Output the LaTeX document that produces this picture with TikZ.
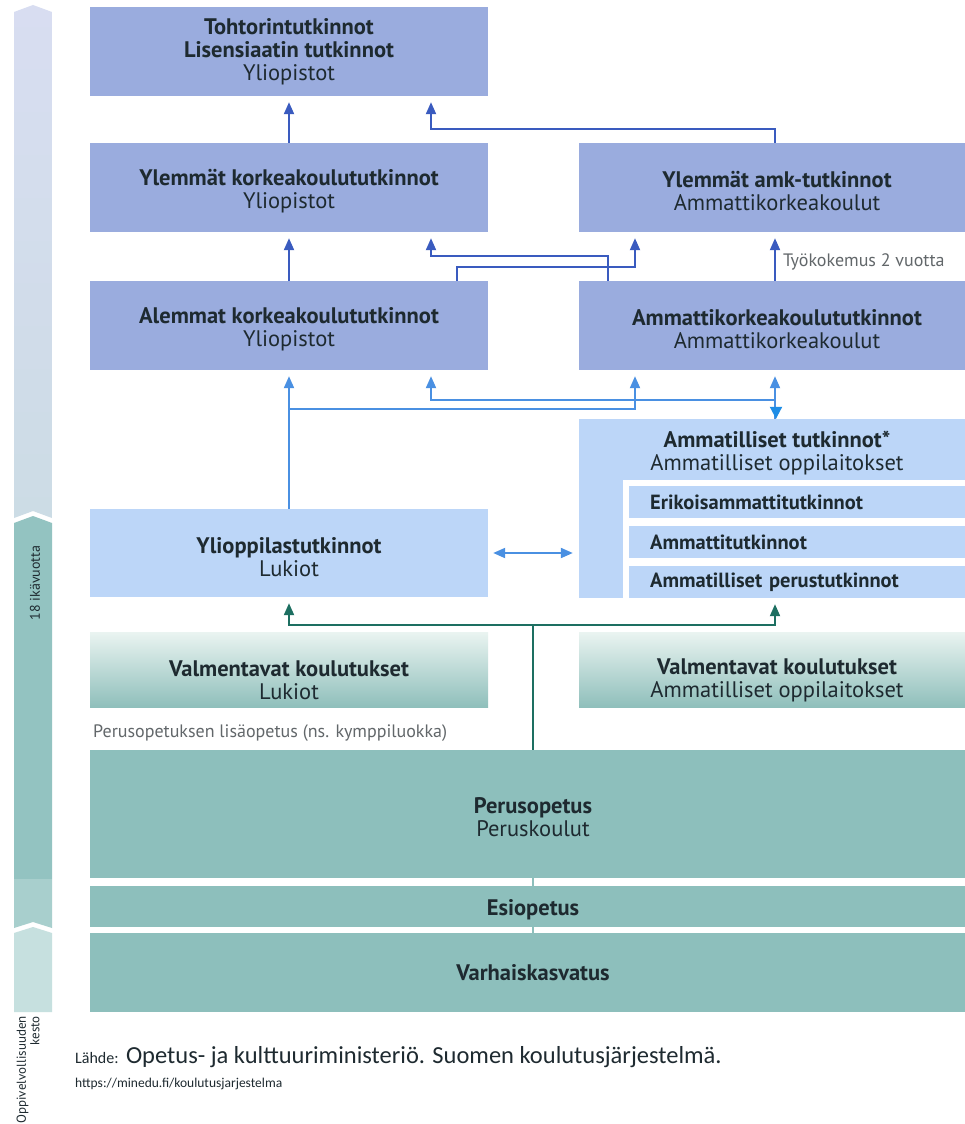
\documentclass[tikz,border=0pt]{standalone}
\usepackage{fontspec}
\setmainfont{PT Sans}
\newfontfamily\calfont{Carlito}
\usetikzlibrary{arrows.meta}
\definecolor{bdark}{HTML}{9AACDE}
\definecolor{blight}{HTML}{BCD6F8}
\definecolor{tealbox}{HTML}{8DBFBC}
\definecolor{adark}{HTML}{3A5BBF}
\definecolor{alight}{HTML}{4A90E2}
\definecolor{ablob}{HTML}{1E8DE6}
\definecolor{agreen}{HTML}{1D6F61}
\definecolor{txt}{HTML}{1E2A30}
\definecolor{graytxt}{HTML}{62676A}
\definecolor{barlav}{HTML}{D8DDF1}
\definecolor{barlav2}{HTML}{CCDCE5}
\definecolor{bart1}{HTML}{93C3C1}
\definecolor{bart2}{HTML}{A8CFCD}
\definecolor{bart3}{HTML}{C6E0DF}
\definecolor{valtop}{HTML}{EAF4F1}
\definecolor{valbot}{HTML}{8FBFBB}
\begin{document}
\begin{tikzpicture}[x=1pt,y=-1pt,
  box/.style={rectangle, inner sep=0pt, align=center, text=txt,
    font=\fontsize{22.5}{23}\selectfont},
  lbl/.style={box, yshift=-4pt},
  topbox/.style={box, fill=bdark, minimum height=89},
  subbox/.style={rectangle, fill=blight, inner ysep=0pt, inner xsep=21pt,
    minimum height=32, text width=325pt, align=left, text=txt, anchor=west,
    font=\bfseries\fontsize{20.5}{22}\selectfont},
  valbox/.style={rectangle, inner sep=0pt, minimum height=75, top color=valtop, bottom color=valbot},
  tealbx/.style={box, fill=tealbox},
  darr/.style={draw=adark, line width=2pt, -{Triangle[width=10pt,length=12pt]}, shorten >=6pt},
  larr/.style={draw=alight, line width=2pt, -{Triangle[width=10pt,length=12pt]}, shorten >=6pt},
  dblarr/.style={draw=alight, line width=2pt, {Triangle[width=10pt,length=12pt]}-{Triangle[width=10pt,length=12pt]}, shorten >=6pt, shorten <=5pt},
  blobarr/.style={draw=ablob, line width=2pt, -{Triangle[width=12pt,length=12pt]}},
  garr/.style={draw=agreen, line width=2pt, -{Triangle[width=10pt,length=12pt]}, shorten >=6pt},
  gline/.style={draw=agreen, line width=2pt},
  note/.style={text=graytxt, font=\fontsize{18}{20}\selectfont, inner sep=0pt}
]
\useasboundingbox (0,0) rectangle (964,1124);
\fill[white] (0,0) rectangle (964,1124);

% left duration bar
\shade[top color=barlav, bottom color=barlav2] (14,12) -- (33,5) -- (52,12) -- (52,518) -- (33,511) -- (14,518) -- cycle;
\fill[bart1] (14,523) -- (33,516) -- (52,523) -- (52,879) -- (14,879) -- cycle;
\fill[bart2] (14,879) -- (52,879) -- (52,928) -- (33,922) -- (14,928) -- cycle;
\fill[bart3] (14,933) -- (33,927) -- (52,933) -- (52,1012) -- (14,1012) -- cycle;
\node[rotate=90, text=txt, font=\fontsize{14}{16}\selectfont, inner sep=0pt] (age) at (35,583) {18 ikävuotta};
\node[rotate=90, anchor=east, align=right, text=txt, font=\fontsize{13}{13.5}\selectfont, inner sep=0pt] (kesto) at (28,1016) {Oppivelvollisuuden\\kesto};

% line through the basic education gaps
\draw[draw=tealbox, line width=2pt] (533,935) -- (533,748);

% higher education boxes
\node[topbox, minimum width=398] (toht) at (289,51.5) {\textbf{Tohtorintutkinnot}\\\textbf{Lisensiaatin tutkinnot}\\Yliopistot};
\node[topbox, minimum width=398] (ylk) at (289,187.5) {};
\node[lbl] (ylkt) at (ylk.center) {\textbf{Ylemmät korkeakoulututkinnot}\\Yliopistot};
\node[topbox, minimum width=396] (yamk) at (777,187.5) {};
\node[lbl] (yamkt) at (yamk.center) {\textbf{Ylemmät amk-tutkinnot}\\Ammattikorkeakoulut};
\node[topbox, minimum width=398] (alk) at (289,325.5) {};
\node[lbl] (alkt) at (alk.center) {\textbf{Alemmat korkeakoulututkinnot}\\Yliopistot};
\node[topbox, minimum width=396] (amk) at (777,325.5) {};
\node[lbl] (amkt) at (amk.center) {\textbf{Ammattikorkeakoulututkinnot}\\Ammattikorkeakoulut};

% upper secondary
\node[box, fill=blight, minimum width=398, minimum height=88] (yo) at (289,553) {};
\node[lbl] (yot) at (yo.center) {\textbf{Ylioppilastutkinnot}\\Lukiot};

\fill[blight] (579,419) rectangle (975,598);
\fill[white] (623,480) rectangle (975,598);
\node[box, minimum width=396, minimum height=179] (amm) at (777,508.5) {};
\node[box] (ammh) at (777,453) {\textbf{Ammatilliset tutkinnot*}\\Ammatilliset oppilaitokset};
\node[subbox] (erik) at (629,502) {Erikoisammattitutkinnot};
\node[subbox] (ammt) at (629,542) {Ammattitutkinnot};
\node[subbox] (apt) at (629,582) {Ammatilliset perustutkinnot};

% preparatory
\node[valbox, minimum width=398] (vall) at (289,669.5) {};
\node[box] (valltxt) at (289,680) {\textbf{Valmentavat koulutukset}\\Lukiot};
\node[valbox, minimum width=396] (valr) at (777,669.5) {};
\node[box] (valrtxt) at (777,680) {\textbf{Valmentavat koulutukset}\\Ammatilliset oppilaitokset};
\node[note, anchor=base west] (lisa) at (93,737) {Perusopetuksen lisäopetus (ns. kymppiluokka)};

% basic education
\node[tealbx, minimum width=886, minimum height=128] (perus) at (533,814) {};
\node[lbl, yshift=1pt] (perust) at (perus.center) {\textbf{Perusopetus}\\Peruskoulut};
\node[tealbx, minimum width=886, minimum height=41] (esi) at (533,906.5) {};
\node[box, yshift=-3pt] (esit) at (esi.center) {\textbf{Esiopetus}};
\node[tealbx, minimum width=886, minimum height=79] (varh) at (533,972.5) {\textbf{Varhaiskasvatus}};

% dark blue connectors (higher education)
\draw[darr] (ylk.north) -- (toht.south);
\draw[darr] (alk.north) -- (ylk.south);
\draw[darr] ([xshift=-2pt]yamk.north) -- ++(0,-14) -| ([xshift=142pt]toht.south);
\draw[darr] ([xshift=-169pt]amk.north) -- ++(0,-25) -| ([xshift=142pt]ylk.south);
\draw[darr] ([xshift=168pt]alk.north) -- ++(0,-14) -| ([xshift=-142pt]yamk.south);
\draw[darr] ([xshift=-2pt]amk.north) -- ([xshift=-2pt]yamk.south)
  node[note, pos=0.38, anchor=west, xshift=7pt] (tyo) {Työkokemus 2 vuotta};

% light blue connectors
\coordinate (jyo) at (289,409);
\draw[larr] (yo.north) -- (alk.south);
\draw[larr] (jyo) -| ([xshift=-142pt]amk.south);
\draw[larr] ([xshift=-2pt]amm.north) -- ++(0,-19) -| ([xshift=142pt]alk.south);
\draw[larr] ([xshift=-2pt]amm.north) -- ([xshift=-2pt]amk.south);
\draw[blobarr] ([xshift=-1pt,yshift=12pt]amm.north) -- ([xshift=-1pt]amm.north);
\draw[dblarr] (yo.east) -- (yo.east -| amm.west);

% green connectors
\coordinate (gj) at (533,625);
\draw[gline] (perus.north) -- (gj);
\draw[garr] (gj) -| (yo.south);
\draw[garr] (gj) -| ([xshift=-2pt]amm.south);

% source
\node[anchor=base west, inner sep=0pt, text=txt, font=\calfont\fontsize{24.5}{26}\selectfont] (src) at (75,1063)
  {{\fontsize{16}{18}\selectfont Lähde:} Opetus- ja kulttuuriministeriö. Suomen koulutusjärjestelmä.};
\node[anchor=base west, inner sep=0pt, text=txt, font=\calfont\fontsize{13.5}{16}\selectfont] (url) at (75,1087)
  {https://minedu.fi/koulutusjarjestelma};
\end{tikzpicture}
\end{document}
